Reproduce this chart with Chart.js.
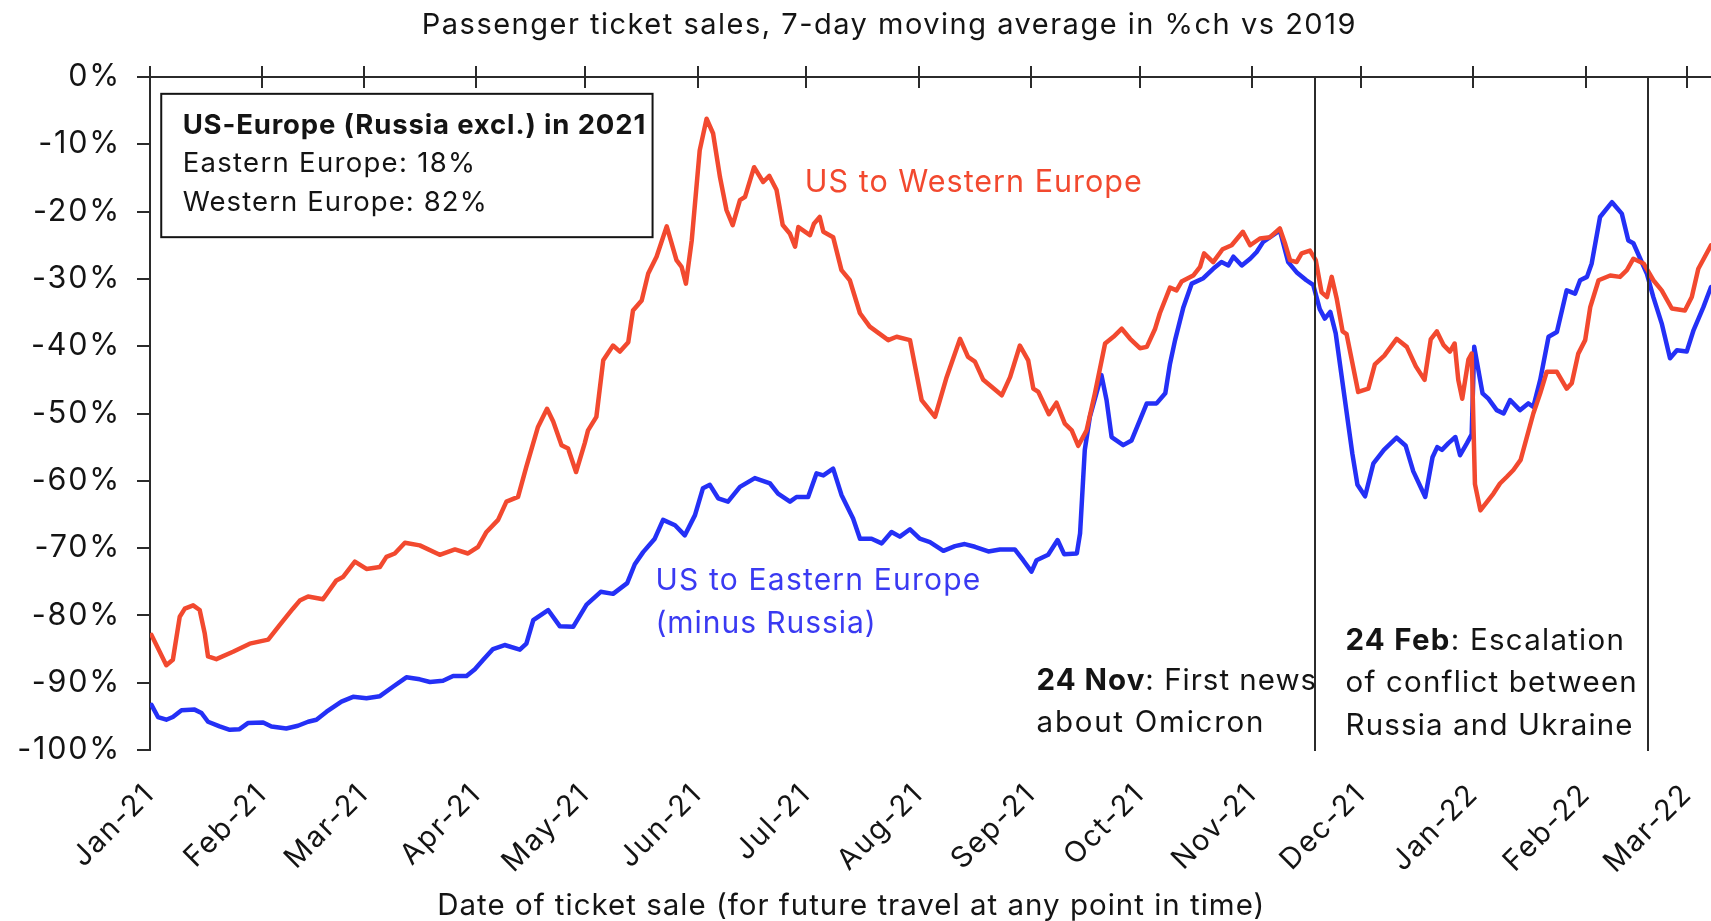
<!DOCTYPE html>
<html>
<head>
<meta charset="utf-8">
<title>Passenger ticket sales</title>
<script src="https://cdn.jsdelivr.net/npm/chart.js@4.4.1/dist/chart.umd.min.js"></script>
<style>
  html, body { margin: 0; padding: 0; background: #fff; overflow: hidden; }
  canvas { display: block; }
</style>
</head>
<body>
<canvas id="chart" width="1711" height="921"></canvas>
<script>
// x values are days since 1 Jan 2021
const monthDays = [0, 31, 59, 90, 120, 151, 181, 212, 243, 273, 304, 334, 365, 396, 424]
const monthLabels = ['Jan-21', 'Feb-21', 'Mar-21', 'Apr-21', 'May-21', 'Jun-21', 'Jul-21', 'Aug-21',
  'Sep-21', 'Oct-21', 'Nov-21', 'Dec-21', 'Jan-22', 'Feb-22', 'Mar-22']

// US to Western Europe, %ch vs 2019
const westDays = [0.4, 4.5, 6.3, 8.2, 9.6, 11.9, 13.7, 15.1, 16.0, 18.3, 22.9, 27.5, 32.6, 35.8, 39.4, 41.3,
  43.6, 47.7, 51.4, 53.2, 56.5, 59.7, 63.4, 65.2, 67.5, 70.3, 74.4, 79.9, 84.1, 87.7, 90.5, 92.8, 96.0, 98.3,
  101.5, 103.8, 107.0, 109.5, 111.2, 113.5, 115.3, 117.5, 119.9, 120.8, 123.1, 125.0, 127.7, 129.6, 131.9,
  133.2, 135.6, 137.4, 139.7, 142.5, 145.2, 146.6, 147.8, 149.4, 151.6, 153.5, 155.3, 157.2, 159.0, 160.7,
  162.7, 164.1, 166.6, 169.1, 170.8, 172.8, 174.5, 176.5, 177.9, 178.8, 182.0, 183.1, 184.7, 185.7, 188.4,
  190.7, 193.0, 195.8, 198.5, 203.6, 205.9, 209.6, 212.8, 216.5, 219.7, 223.4, 225.6, 227.5, 229.8, 234.9,
  237.2, 239.9, 242.2, 243.6, 245.0, 247.9, 250.0, 252.3, 254.2, 256.0, 258.3, 260.6, 263.4, 265.7, 268.0,
  270.3, 273.0, 274.9, 277.2, 278.5, 281.3, 283.1, 284.5, 287.7, 289.6, 290.7, 293.2, 295.8, 298.3, 301.4,
  303.4, 306.1, 308.9, 311.6, 313.0, 314.4, 316.2, 317.6, 319.9, 321.5, 323.1, 324.6, 325.9, 327.3, 328.9,
  330.0, 333.2, 336.0, 337.8, 340.4, 343.8, 346.6, 349.1, 351.5, 353.2, 354.9, 356.7, 358.5, 359.8, 360.8,
  361.9, 363.6, 364.5, 365.4, 366.9, 370.5, 372.3, 374.2, 376.0, 378.0, 381.5, 383.4, 385.2, 388.0, 390.7,
  392.1, 393.9, 395.8, 397.2, 399.5, 402.7, 405.4, 407.3, 409.1, 411.9, 414.6, 416.9, 419.7, 423.3, 425.2,
  427.0, 430.5]
const westPct = [-82.9, -87.4, -86.6, -80.2, -79.0, -78.5, -79.2, -82.7, -86.1, -86.5, -85.4, -84.2, -83.6,
  -81.4, -79.0, -77.8, -77.2, -77.6, -74.8, -74.3, -72.0, -73.1, -72.8, -71.3, -70.8, -69.2, -69.6, -71.0,
  -70.2, -70.8, -69.8, -67.6, -65.8, -63.1, -62.4, -57.9, -52.0, -49.3, -51.2, -54.7, -55.2, -58.7, -54.4,
  -52.5, -50.5, -42.1, -39.9, -40.8, -39.4, -34.7, -33.2, -29.2, -26.7, -22.2, -27.2, -28.2, -30.7, -24.3,
  -10.9, -6.2, -8.4, -14.9, -19.8, -22.0, -18.3, -17.8, -13.4, -15.6, -14.7, -16.8, -22.0, -23.3, -25.2,
  -22.3, -23.5, -21.8, -20.8, -23.0, -23.8, -28.7, -30.2, -35.1, -37.1, -39.1, -38.6, -39.1, -48.0, -50.5,
  -44.6, -38.9, -41.6, -42.3, -45.0, -47.3, -44.6, -39.9, -42.1, -46.3, -46.8, -50.1, -48.4, -51.5, -52.5,
  -54.8, -52.5, -47.0, -39.6, -38.6, -37.4, -38.9, -40.3, -40.1, -37.4, -35.1, -31.3, -31.7, -30.4, -29.5,
  -28.2, -26.2, -27.5, -25.6, -25.0, -23.0, -25.0, -24.0, -23.8, -22.5, -24.7, -27.2, -27.5, -26.2, -25.8,
  -27.2, -32.0, -32.7, -29.7, -33.0, -37.8, -38.2, -46.8, -46.3, -42.7, -41.4, -38.9, -40.1, -43.0, -45.0,
  -39.0, -37.8, -39.8, -40.8, -39.6, -45.0, -47.8, -42.0, -41.1, -60.5, -64.4, -61.9, -60.4, -59.4, -58.4,
  -56.9, -50.0, -47.0, -43.8, -43.8, -46.3, -45.5, -41.1, -39.1, -34.2, -30.2, -29.5, -29.7, -28.7, -27.0,
  -27.7, -30.2, -31.7, -34.4, -34.7, -32.7, -28.5, -25.0]

// US to Eastern Europe (minus Russia), %ch vs 2019
const eastDays = [0.4, 2.2, 4.5, 6.3, 8.7, 12.3, 14.2, 16.0, 19.2, 22.0, 24.7, 27.0, 31.2, 33.5, 37.6, 40.8,
  43.6, 45.9, 48.7, 52.8, 56.0, 59.7, 63.4, 67.0, 70.7, 74.4, 77.2, 80.8, 83.6, 87.3, 89.6, 91.9, 94.6, 97.8,
  102.0, 103.8, 105.7, 109.8, 113.0, 116.7, 120.4, 124.3, 127.7, 131.6, 133.7, 136.0, 139.2, 141.5, 144.8,
  147.5, 150.3, 152.5, 154.4, 156.7, 159.4, 162.7, 166.8, 171.0, 173.2, 176.5, 178.3, 181.5, 183.8, 185.7,
  188.4, 190.7, 193.9, 195.8, 199.0, 201.8, 204.5, 206.8, 209.6, 212.3, 215.1, 218.8, 222.0, 224.7, 227.5,
  231.2, 234.4, 238.5, 240.8, 243.1, 244.5, 247.7, 250.3, 252.1, 255.6, 256.5, 257.8, 259.2, 262.4, 263.8,
  265.2, 268.4, 270.7, 273.0, 274.9, 277.6, 280.0, 281.3, 282.7, 285.0, 287.3, 290.5, 293.2, 295.5, 297.4,
  298.8, 301.1, 303.4, 305.2, 307.0, 308.9, 311.6, 313.9, 316.2, 318.9, 320.8, 322.6, 324.0, 325.5, 327.0,
  331.6, 333.0, 335.1, 337.4, 340.3, 343.8, 346.3, 348.4, 351.7, 353.7, 355.0, 356.3, 358.1, 360.0, 361.3,
  363.2, 364.5, 365.2, 367.5, 369.1, 371.4, 373.3, 375.1, 377.8, 380.1, 381.5, 383.4, 385.7, 388.0, 390.7,
  393.0, 394.4, 396.3, 397.6, 399.9, 403.2, 405.9, 407.7, 409.1, 412.8, 414.6, 416.9, 419.2, 421.1, 423.8,
  425.7, 428.4, 430.5]
const eastPct = [-93.3, -95.1, -95.5, -95.1, -94.1, -94.0, -94.5, -95.8, -96.5, -97.0, -96.9, -96.0, -95.9,
  -96.5, -96.8, -96.4, -95.8, -95.5, -94.3, -92.8, -92.1, -92.3, -92.0, -90.6, -89.2, -89.5, -89.9, -89.7,
  -89.0, -89.0, -88.0, -86.6, -85.0, -84.4, -85.1, -84.2, -80.7, -79.2, -81.6, -81.7, -78.4, -76.5, -76.8,
  -75.2, -72.4, -70.6, -68.6, -65.8, -66.6, -68.1, -65.1, -61.1, -60.6, -62.6, -63.1, -60.9, -59.6, -60.4,
  -61.9, -63.1, -62.4, -62.4, -58.9, -59.2, -58.2, -62.1, -65.6, -68.6, -68.6, -69.3, -67.6, -68.3, -67.2,
  -68.6, -69.1, -70.4, -69.7, -69.4, -69.8, -70.5, -70.2, -70.2, -71.8, -73.5, -71.8, -71.0, -68.8, -70.9,
  -70.8, -67.8, -55.4, -50.5, -44.3, -48.0, -53.5, -54.7, -54.0, -51.0, -48.5, -48.5, -47.0, -42.6, -39.1,
  -34.2, -30.7, -29.9, -28.5, -27.5, -28.0, -26.7, -28.0, -27.0, -26.0, -24.5, -23.8, -22.8, -27.5, -29.0,
  -30.2, -30.9, -34.5, -35.9, -34.9, -38.1, -56.0, -60.6, -62.3, -57.4, -55.4, -53.6, -54.8, -58.6, -62.4,
  -56.5, -55.0, -55.4, -54.4, -53.5, -56.2, -54.4, -53.1, -40.1, -47.0, -47.8, -49.5, -50.0, -48.0, -49.5,
  -48.5, -49.0, -45.0, -38.6, -37.9, -31.7, -32.2, -30.2, -29.7, -27.7, -20.8, -18.6, -20.3, -24.3, -24.7,
  -29.2, -32.7, -36.6, -41.8, -40.6, -40.8, -37.6, -34.2, -31.2]

// event markers (day position as drawn)
const eventDays = [321.2, 413.2]

const RED = '#f2492f'
const BLUE = '#2430f6'
const BLUE_TEXT = '#3a3af2'
const INK = '#141414'
const AXIS = '#2b2b2b'
const FONT = 'Inter, "Noto Sans", sans-serif'

Chart.defaults.font.family = FONT
Chart.defaults.color = INK

// text placed in data units: day along x, % along y (baseline); ls = letter spacing per line
const notes = [
  { day: 203.9, pct: 6.4, align: 'center', size: 29, ls: [1.5], color: INK,
    lines: [[['Passenger ticket sales, 7-day moving average in %ch vs 2019']]] },
  { day: 193.4, pct: -124.5, align: 'center', size: 29.5, ls: [1], color: INK,
    lines: [[['Date of ticket sale (for future travel at any point in time)']]] },
  { day: 9.0, pct: -8.4, gap: -5.75, size: 27.5, ls: [0.85, 1.3, 1.1], color: INK,
    lines: [[['US-Europe (Russia excl.) in 2021', true]], [['Eastern Europe: 18%']], [['Western Europe: 82%']]] },
  { day: 180.6, pct: -17.15, size: 30.5, ls: [1], color: RED, lines: [[['US to Western Europe']]] },
  { day: 139.4, pct: -76.3, gap: -6.3, size: 30, ls: [1.2, 0.95], color: BLUE_TEXT,
    lines: [[['US to Eastern Europe']], [['(minus Russia)']]] },
  { day: 244.5, pct: -91.1, gap: -6.2, size: 29.5, ls: [1.0, 1.75], color: INK,
    lines: [[['24 Nov', true], [': First news']], [['about Omicron']]] },
  { day: 329.7, pct: -85.1, gap: -6.3, size: 29.5, ls: [1.25, 1.2, 1.15], color: INK,
    lines: [[['24 Feb', true], [': Escalation']], [['of conflict between']], [['Russia and Ukraine']]] }
]

const legendBox = { day0: 3.1, day1: 138.6, pct0: -2.5, pct1: -23.8 }

const extras = {
  id: 'extras',
  beforeDraw(chart) {
    // tick labels in the source are set a little wider than Inter
    chart.ctx.letterSpacing = '1.8px'
  },
  afterDatasetsDraw(chart) {
    const { ctx, chartArea, scales } = chart
    const x = scales.x, y = scales.y, top = scales.xTop
    ctx.save()
    ctx.strokeStyle = AXIS
    ctx.lineWidth = 2
    // inner half of the crossing ticks on the 0% line
    top.ticks.forEach(t => {
      const px = Math.round(top.getPixelForValue(t.value))
      ctx.beginPath()
      ctx.moveTo(px, chartArea.top)
      ctx.lineTo(px, chartArea.top + 11)
      ctx.stroke()
    })
    // event lines
    eventDays.forEach(d => {
      const px = Math.round(x.getPixelForValue(d))
      ctx.beginPath()
      ctx.moveTo(px, chartArea.top)
      ctx.lineTo(px, chartArea.bottom + 1)
      ctx.stroke()
    })
    // share box
    const bx0 = x.getPixelForValue(legendBox.day0), bx1 = x.getPixelForValue(legendBox.day1)
    const by0 = y.getPixelForValue(legendBox.pct0), by1 = y.getPixelForValue(legendBox.pct1)
    ctx.strokeStyle = INK
    ctx.strokeRect(bx0, by0, bx1 - bx0, by1 - by0)
    // texts
    ctx.textBaseline = 'alphabetic'
    ctx.textAlign = 'left'
    notes.forEach(n => {
      ctx.fillStyle = n.color
      n.lines.forEach((parts, i) => {
        ctx.letterSpacing = (n.ls[i] ?? n.ls[0]) + 'px'
        const py = y.getPixelForValue(n.pct + i * (n.gap || 0))
        const fonts = parts.map(p => (p[1] ? 'bold ' : '') + n.size + 'px ' + FONT)
        let w = 0
        parts.forEach((p, k) => { ctx.font = fonts[k]; w += ctx.measureText(p[0]).width })
        let px = x.getPixelForValue(n.day)
        if (n.align === 'center') px -= w / 2
        parts.forEach((p, k) => {
          ctx.font = fonts[k]
          ctx.fillText(p[0], px, py)
          px += ctx.measureText(p[0]).width
        })
      })
    })
    ctx.restore()
  }
}

const toPoints = (days, vals) => days.map((d, i) => ({ x: d, y: vals[i] }))
const monthTicks = s => { s.ticks = monthDays.map(v => ({ value: v })) }

new Chart(document.getElementById('chart'), {
  type: 'line',
  data: {
    datasets: [
      { label: 'US to Western Europe', data: toPoints(westDays, westPct), borderColor: RED, borderWidth: 4.5 },
      { label: 'US to Eastern Europe (minus Russia)', data: toPoints(eastDays, eastPct), borderColor: BLUE, borderWidth: 4.5 }
    ]
  },
  options: {
    responsive: false,
    animation: false,
    elements: { point: { radius: 0 }, line: { tension: 0, borderJoinStyle: 'round', borderCapStyle: 'round' } },
    layout: { padding: 0 },
    plugins: { legend: { display: false }, tooltip: { enabled: false } },
    scales: {
      x: {
        type: 'linear', position: 'bottom', min: 0, max: 430.5,
        afterBuildTicks: monthTicks,
        grid: { display: false, drawTicks: false },
        border: { display: false },
        ticks: {
          autoSkip: false, minRotation: 45, maxRotation: 45, padding: 27,
          font: { size: 29 }, color: INK,
          callback: v => monthLabels[monthDays.indexOf(v)]
        },
        afterFit: s => { s.height = 171; s.paddingLeft = 0; s.paddingRight = 0 }
      },
      xTop: {
        type: 'linear', position: 'top', min: 0, max: 430.5,
        afterBuildTicks: monthTicks,
        grid: { drawOnChartArea: false, tickLength: 11, color: AXIS, lineWidth: 2 },
        border: { color: AXIS, width: 2 },
        ticks: { display: false },
        afterFit: s => { s.height = 77; s.paddingLeft = 0; s.paddingRight = 0 }
      },
      y: {
        min: -100, max: 0,
        grid: { drawOnChartArea: false, tickLength: 13, color: AXIS, lineWidth: 2 },
        border: { color: AXIS, width: 2 },
        ticks: { stepSize: 10, padding: 16, font: { size: 30.5 }, color: INK, callback: v => v + '%' },
        afterFit: s => { s.width = 150 }
      }
    }
  },
  plugins: [extras]
})
</script>
</body>
</html>
